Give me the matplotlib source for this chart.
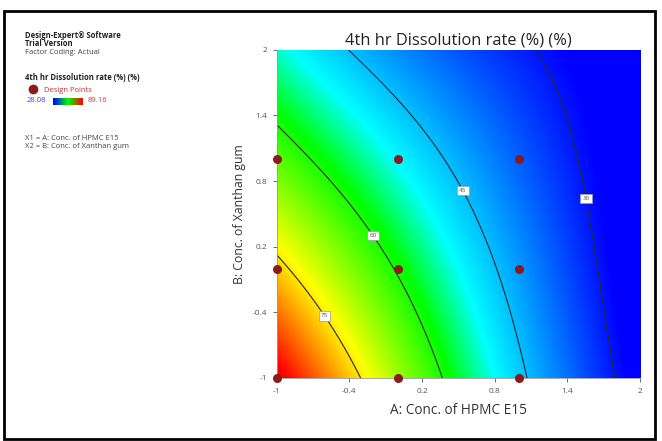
""" 4th hr dissolution rate response surface (Design-Expert style contour plot)
"""

import numpy as np
import matplotlib.pyplot as plt
from matplotlib.colors import LinearSegmentedColormap
from matplotlib.patches import Rectangle
from matplotlib.lines import Line2D

plt.rcParams['font.family'] = ['Open Sans', 'DejaVu Sans']

# design points (coded levels) and observed response
CONC_HPMC = [-1, 0, 1, -1, 0, 1, -1, 0, 1]
CONC_XANTHAN = [-1, -1, -1, 0, 0, 0, 1, 1, 1]
DISSOLUTION = [90.9, 68.1, 46.4, 76.7, 59.4, 41.7, 63.8, 50.2, 36.6]

CONTOUR_LEVELS = [30, 45, 60, 75]
RESP_MIN, RESP_MAX = 28.08, 89.16
TICKS = [-1, -0.4, 0.2, 0.8, 1.4, 2]
TICK_LABELS = ['-1', '-0.4', '0.2', '0.8', '1.4', '2']


def model_terms(a, b):
    """Full 3-level factorial terms (quadratic with interactions)"""
    a = np.asarray(a, float)
    b = np.asarray(b, float)
    return np.column_stack([np.ones_like(a), a, b, a * b, a**2, b**2,
                            a**2 * b, a * b**2, a**2 * b**2])


coef, *_ = np.linalg.lstsq(model_terms(CONC_HPMC, CONC_XANTHAN),
                           np.array(DISSOLUTION, float), rcond=None)

grid_a, grid_b = np.meshgrid(np.linspace(-1, 2, 400), np.linspace(-1, 2, 400))
grid_z = (model_terms(grid_a.ravel(), grid_b.ravel()) @ coef).reshape(grid_a.shape)

de_cmap = LinearSegmentedColormap.from_list(
    'de', [(0, '#0000ff'), (0.37, '#00ffff'), (0.5, '#00ff00'), (0.75, '#ffff00'), (1, '#ff0000')])

fig = plt.figure(figsize=(6.62, 4.41), dpi=100)
ax = fig.add_axes([0.418, 0.143, 0.549, 0.744])
ax.imshow(grid_z, origin='lower', extent=[-1, 2, -1, 2], cmap=de_cmap,
          vmin=RESP_MIN, vmax=RESP_MAX, aspect='auto', interpolation='bilinear')
cs = ax.contour(grid_a, grid_b, grid_z, levels=CONTOUR_LEVELS, colors='#2a2a2a', linewidths=0.8)
labels = ax.clabel(cs, fmt='%d', fontsize=4.5, inline=False,
                   manual=[(1.55, 0.64), (0.53, 0.71), (-0.21, 0.30), (-0.56, -0.40)])
for t in labels:
    t.set_rotation(0)
    t.set_color('#555555')
    t.set_bbox(dict(facecolor='white', edgecolor='#999999', linewidth=0.5, pad=1.5))

ax.scatter(CONC_HPMC, CONC_XANTHAN, s=30, color='#8b1a1a', zorder=5, clip_on=False)

ax.set_xlim(-1, 2)
ax.set_ylim(-1, 2)
ax.set_xticks(TICKS, TICK_LABELS)
ax.set_yticks(TICKS, TICK_LABELS)
ax.tick_params(labelsize=6, colors='#555555', length=3, width=0.6, pad=4)
for side in ['top', 'right']:
    ax.spines[side].set_visible(False)
for side in ['left', 'bottom']:
    ax.spines[side].set_color('#999999')
    ax.spines[side].set_linewidth(0.6)

ax.set_title('4th hr Dissolution rate (%) (%)', fontsize=11.8, color='#222222', pad=4)
ax.set_xlabel('A: Conc. of HPMC E15', fontsize=9.8, color='#333333', labelpad=6)
ax.set_ylabel('B: Conc. of Xanthan gum', fontsize=8.8, color='#333333', labelpad=5)

# info panel on the left
W, H = 662, 441
def put(x, y, s, **kw):
    fig.text(x / W, 1 - y / H, s, fontsize=5.5, va='center', ha='left', **kw)

put(25, 35, 'Design-Expert® Software', weight='bold', color='#222222')
put(25, 44, 'Trial Version', weight='bold', color='#222222')
put(25, 53, 'Factor Coding: Actual', color='#444444')
put(25, 78, '4th hr Dissolution rate (%) (%)', weight='bold', color='#222222')
fig.add_artist(Line2D([33 / W], [1 - 89 / H], marker='o', markersize=6, color='#8b1a1a',
                      transform=fig.transFigure))
put(44, 90, 'Design Points', color='#c03030')
put(27, 101, f'{RESP_MIN:.2f}', color='#4040ff')
put(88, 101, f'{RESP_MAX:.2f}', color='#e03030')
bar_ax = fig.add_axes([53 / W, 1 - 105 / H, 30 / W, 7 / H])
bar_ax.imshow(np.linspace(0, 1, 64)[None, :], aspect='auto',
              cmap=LinearSegmentedColormap.from_list('bar', ['#0000ff', '#00ff00', '#ff0000']))
bar_ax.set_axis_off()
put(25, 138, 'X1 = A: Conc. of HPMC E15', color='#444444')
put(25, 147, 'X2 = B: Conc. of Xanthan gum', color='#444444')

fig.patches.append(Rectangle((4 / W, 2 / H), 651 / W, 428 / H, transform=fig.transFigure,
                             fill=False, edgecolor='black', linewidth=2, figure=fig))

fig.savefig('out.png')
